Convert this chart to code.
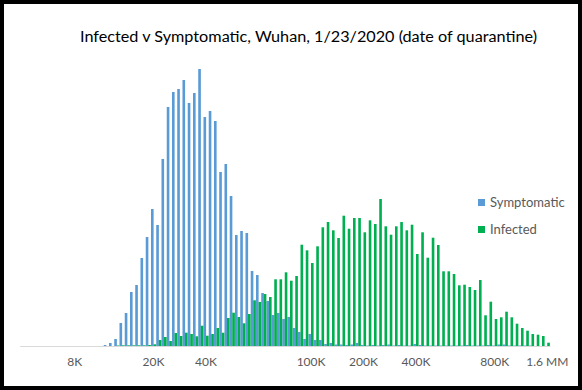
<!DOCTYPE html>
<html>
<head>
<meta charset="utf-8">
<script src="https://cdn.jsdelivr.net/npm/d3@7"></script>
<style>
  html, body { margin: 0; padding: 0; background: #fff; }
  svg { display: block; font-family: Lato, "Open Sans", sans-serif; }
</style>
</head>
<body>
<div class="chart"></div>
<script>
// Histogram bins on a log scale (relative bar heights, no y axis shown).
const categories = d3.range(101);

const symptomatic = [
    0, 0, 0, 0, 0, 0, 0, 0, 0, 0,
    0, 0, 0, 0, 0, 0, 1, 3, 7, 23,
    33, 54, 61, 88, 109, 137, 121, 187, 239, 254,
    257, 266, 243, 253, 277, 229, 235, 225, 174, 182,
    150, 111, 115, 113, 75, 71, 53, 45, 31, 33,
    27, 29, 18, 14, 7, 12, 6, 6, 2, 3,
    1.5, 1.5, 1, 1.5, 3, 1, 0.5, 1, 0.5, 1,
    1.5, 0.5, 1, 0.5, 0.5, 2, 1, 0.5, 0.5, 0.5,
    0.5, 0.5, 0.5, 0.5, 0.5, 1, 0.5, 0.5, 0.5, 1,
    0.5, 1.5, 1.5, 0.5, 0.5, 0.5, 0.5, 0.5, 0, 0,
    0
];

const infected = [
    0, 0, 0, 0, 0, 0, 0, 0, 0, 0,
    0, 0, 0, 0, 0, 0, 0, 0, 0.5, 0.7,
    0.7, 0.7, 0.7, 0.7, 1, 1.7, 6, 9, 5, 13,
    10, 13.3, 12, 9.7, 20.3, 10.3, 12, 18, 13.3, 28,
    33.3, 29, 22.7, 32, 45.7, 44, 52, 49, 66.7, 66.7,
    73.7, 65.3, 70, 101.3, 95.7, 83, 99.7, 118.7, 124, 115.7,
    108, 130.3, 117.3, 128, 128, 113.7, 125.7, 122, 147, 119.7,
    111.3, 119.7, 124, 115.7, 121.3, 92, 113.7, 88.3, 108.3, 101,
    74.7, 74.7, 72, 60.7, 61.3, 59, 56, 66, 30.7, 44.3,
    27, 28.7, 34.3, 28.7, 22.3, 18, 15.3, 12, 11.3, 10,
    3.3
];

// Only some bins carry a label on the category axis.
const tickCats = [10, 25, 35, 55, 65, 75, 90, 100];
const tickLabels = ["8K", "20K", "40K", "100K", "200K", "400K", "800K", "1.6 MM"];

const seriesNames = ["Symptomatic", "Infected"];
const seriesColors = ["#5B9BD5", "#00B050"];

const WIDTH = 582;
const HEIGHT = 390;
const PLOT = { left: 19.7, right: 549.9, top: 66, bottom: 346 };

const svg = d3
    .select(".chart")
    .append("svg")
    .attr("width", WIDTH)
    .attr("height", HEIGHT);

svg.append("rect")
    .attr("width", WIDTH)
    .attr("height", HEIGHT)
    .attr("fill", "#fff");

const x = d3
    .scaleBand()
    .domain(categories)
    .range([PLOT.left, PLOT.right]);

const y = d3
    .scaleLinear()
    .domain([0, 280])
    .range([PLOT.bottom, PLOT.top]);

// Two bars per bin, slightly overlapping, like Excel clustered columns.
const sub = d3
    .scaleBand()
    .domain(seriesNames)
    .range([0, x.bandwidth()])
    .paddingInner(-0.04)
    .paddingOuter(0.02);

const barsContainer = svg.append("g").classed("bars", true);

[symptomatic, infected].forEach((values, s) => {
    barsContainer
        .append("g")
        .attr("fill", seriesColors[s])
        .selectAll("rect")
        .data(values.map((v, i) => ({ cat: categories[i], value: v })).filter((d) => d.value > 0))
        .enter()
        .append("rect")
        .attr("x", (d) => x(d.cat) + sub(seriesNames[s]))
        .attr("width", sub.bandwidth())
        .attr("y", (d) => y(d.value))
        .attr("height", (d) => y(0) - y(d.value));
});

const xAxis = d3
    .axisBottom(x)
    .tickValues(tickCats)
    .tickSize(0)
    .tickSizeOuter(0)
    .tickPadding(11)
    .tickFormat((d) => tickLabels[tickCats.indexOf(d)]);

const axisG = svg
    .append("g")
    .attr("transform", "translate(0," + PLOT.bottom + ")")
    .call(xAxis);
axisG.select(".domain").attr("stroke", "#D9D9D9").attr("stroke-width", 1);
axisG
    .selectAll("text")
    .attr("fill", "#595959")
    .attr("font-size", 12)
    .attr("font-family", "Lato, sans-serif");

// Title
svg.append("text")
    .attr("x", 80)
    .attr("y", 41.5)
    .attr("font-size", 15.5)
    .attr("fill", "#000")
    .attr("textLength", 457)
    .attr("lengthAdjust", "spacingAndGlyphs")
    .text("Infected v Symptomatic, Wuhan, 1/23/2020 (date of quarantine)");

// Legend
const legend = svg
    .append("g")
    .selectAll("g")
    .data(seriesNames)
    .enter()
    .append("g")
    .attr("transform", (d, i) => "translate(478," + (199 + i * 27) + ")");
legend
    .append("rect")
    .attr("width", 7)
    .attr("height", 7)
    .attr("fill", (d, i) => seriesColors[i]);
legend
    .append("text")
    .attr("x", 12)
    .attr("y", 8)
    .attr("font-size", 13)
    .attr("fill", "#595959")
    .text((d) => d);

// Frame around the picture
svg.append("rect")
    .attr("x", 2)
    .attr("y", 2)
    .attr("width", WIDTH - 4)
    .attr("height", HEIGHT - 4)
    .attr("fill", "none")
    .attr("stroke", "#000")
    .attr("stroke-width", 4);
</script>
</body>
</html>
